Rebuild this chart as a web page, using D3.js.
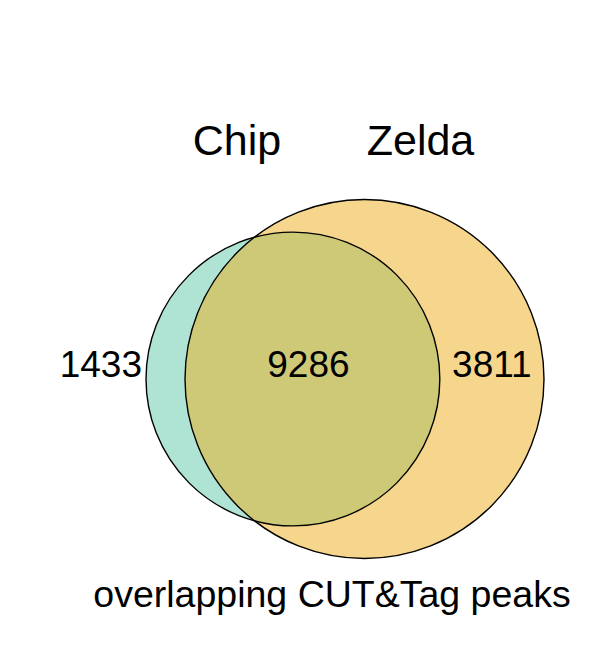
<!DOCTYPE html>
<html>
<head>
<meta charset="utf-8">
<script src="https://cdn.jsdelivr.net/npm/d3@7"></script>
<style>
  body { margin: 0; background: #fff; }
  svg text { font-family: "Liberation Sans", Arial, sans-serif; fill: #000; }
</style>
</head>
<body>
<div id="chart"></div>
<script>
// set names and region counts
const setNames = ["Chip", "Zelda"];
const setColors = ["#5fc9a9", "#edad19"];
const onlyCounts = [1433, 3811];   // Chip only, Zelda only
const overlapCount = 9286;
const title = "overlapping CUT&Tag peaks";

const W = 592, H = 651;
const cy = 379;
const leftEdge = 146, rightEdge = 544;

const setSizes = onlyCounts.map(c => c + overlapCount);

const svg = d3.select("#chart").append("svg")
  .attr("width", W)
  .attr("height", H);

// radius grows linearly with set size
const r = d3.scaleLinear().domain([0, d3.max(setSizes)]).range([0, 179.5]);

const circles = [
  {name: setNames[0], size: setSizes[0], color: setColors[0]},
  {name: setNames[1], size: setSizes[1], color: setColors[1]}
];
circles[0].cx = leftEdge + r(circles[0].size);
circles[1].cx = rightEdge - r(circles[1].size);

// fills first (semi transparent), outlines on top
svg.selectAll("circle.fill")
  .data(circles)
  .enter().append("circle")
  .attr("class", "fill")
  .attr("cx", d => d.cx)
  .attr("cy", cy)
  .attr("r", d => r(d.size))
  .style("fill", d => d.color)
  .style("fill-opacity", 0.5);

svg.selectAll("circle.edge")
  .data(circles)
  .enter().append("circle")
  .attr("class", "edge")
  .attr("cx", d => d.cx)
  .attr("cy", cy)
  .attr("r", d => r(d.size))
  .style("fill", "none")
  .style("stroke", "#000")
  .style("stroke-width", 1.4);

// set labels
svg.selectAll("text.setname")
  .data(circles)
  .enter().append("text")
  .attr("class", "setname")
  .attr("x", (d, i) => i === 0 ? d.cx - 56 : d.cx + 56)
  .attr("y", 155)
  .attr("text-anchor", "middle")
  .style("font-size", "43px")
  .text(d => d.name);

// region counts
const aLeft = circles[0].cx - r(circles[0].size);
const aRight = circles[0].cx + r(circles[0].size);
const bLeft = circles[1].cx - r(circles[1].size);
const bRight = circles[1].cx + r(circles[1].size);
const regions = [
  {value: onlyCounts[0], x: aLeft - 4, anchor: "end"},
  {value: overlapCount, x: (bLeft + aRight) / 2 - 4, anchor: "middle"},
  {value: onlyCounts[1], x: (aRight + bRight) / 2, anchor: "middle"}
];
svg.selectAll("text.count")
  .data(regions)
  .enter().append("text")
  .attr("class", "count")
  .attr("x", d => d.x)
  .attr("y", 377)
  .attr("text-anchor", d => d.anchor)
  .style("font-size", "37px")
  .text(d => d.value);

svg.append("text")
  .attr("x", 332)
  .attr("y", 607)
  .attr("text-anchor", "middle")
  .style("font-size", "37.5px")
  .text(title);
</script>
</body>
</html>
